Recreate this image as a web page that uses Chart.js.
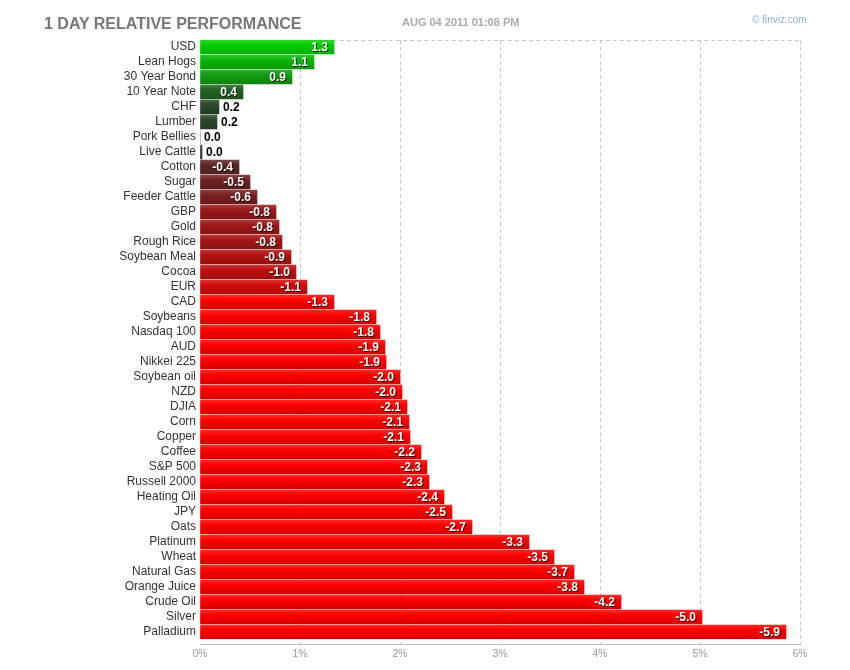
<!DOCTYPE html>
<html>
<head>
<meta charset="utf-8">
<script src="https://cdn.jsdelivr.net/npm/chart.js@4/dist/chart.umd.min.js"></script>
<style>
  body { margin: 0; background: #fff; }
  #wrap { position: relative; width: 850px; height: 670px; font-family: Arial, "Liberation Sans", Helvetica, sans-serif; }
  #wrap canvas { position: absolute; left: 0; top: 0; }
  .hdr { position: absolute; white-space: nowrap; }
  #title { left: 44px; top: 16px; font-size: 16px; line-height: 16px; font-weight: bold; color: #777; }
  #stamp { left: 402px; top: 17px; font-size: 11px; line-height: 11px; font-weight: bold; color: #aaa; }
  #credit { left: 752px; top: 15px; font-size: 10px; line-height: 10px; color: #8ab4de; }
</style>
</head>
<body>
<div id="wrap">
  <canvas id="chart-perf" width="850" height="670"></canvas>
  <div class="hdr" id="title">1 DAY RELATIVE PERFORMANCE</div>
  <div class="hdr" id="stamp">AUG 04 2011 01:08 PM</div>
  <div class="hdr" id="credit">© finviz.com</div>
</div>
<script>
/* 1 day relative performance — horizontal bars, length = |change| */

const FONT = 'Arial, "Liberation Sans", Helvetica, sans-serif';

const NAMES = [
  'USD', 'Lean Hogs', '30 Year Bond', '10 Year Note', 'CHF', 'Lumber',
  'Pork Bellies', 'Live Cattle', 'Cotton', 'Sugar', 'Feeder Cattle', 'GBP',
  'Gold', 'Rough Rice', 'Soybean Meal', 'Cocoa', 'EUR', 'CAD',
  'Soybeans', 'Nasdaq 100', 'AUD', 'Nikkei 225', 'Soybean oil', 'NZD',
  'DJIA', 'Corn', 'Copper', 'Coffee', 'S&P 500', 'Russell 2000',
  'Heating Oil', 'JPY', 'Oats', 'Platinum', 'Wheat', 'Natural Gas',
  'Orange Juice', 'Crude Oil', 'Silver', 'Palladium',
];

// % change
const CHANGES = [
  1.34, 1.14, 0.92, 0.43, 0.19, 0.17,
  0.00, 0.02, -0.39, -0.50, -0.57, -0.76,
  -0.79, -0.82, -0.91, -0.96, -1.07, -1.34,
  -1.76, -1.80, -1.85, -1.86, -2.00, -2.02,
  -2.07, -2.09, -2.10, -2.21, -2.27, -2.29,
  -2.44, -2.52, -2.72, -3.29, -3.54, -3.74,
  -3.84, -4.21, -5.02, -5.86,
];

const X_TICKS = [0, 1, 2, 3, 4, 5, 6];

function baseColor(v) {
  if (v >= 0) {
    const t = Math.pow(Math.min(v / 1.4, 1), 1.05);
    return [48 * (1 - t), 52 + (215 - 52) * t, 48 * (1 - t)];
  }
  const t = Math.pow(Math.min(-v / 1.3, 1), 1.25);
  return [48 + (255 - 48) * t, 48 * (1 - t), 48 * (1 - t)];
}

function rgb(c, k) {
  // k > 0 lightens toward white, k < 0 darkens
  const f = x => Math.round(k >= 0 ? x + (255 - x) * k : x * (1 + k));
  return `rgb(${f(c[0])},${f(c[1])},${f(c[2])})`;
}

function barFill(ctx) {
  const v = CHANGES[ctx.dataIndex];
  if (v === undefined) return '#333';
  const c = baseColor(v);
  const chart = ctx.chart, ys = chart.scales.y;
  if (!ys || !chart.chartArea) return rgb(c, 0);
  const cy = ys.getPixelForValue(ctx.dataIndex);
  const g = chart.ctx.createLinearGradient(0, cy - 7, 0, cy + 7);
  g.addColorStop(0, rgb(c, 0.16));
  g.addColorStop(0.35, rgb(c, 0));
  g.addColorStop(1, rgb(c, -0.16));
  return g;
}

// rows are 15px and end 4px above the x axis line
const rowFit = {
  id: 'rowFit',
  afterLayout(chart) {
    const s = chart.scales.y, a = chart.chartArea;
    s.top = a.top - 0.5;
    s.bottom = s.top + NAMES.length * 15;
    s.height = s.bottom - s.top;
    s.configure();
  },
};

const topLine = {
  id: 'topLine',
  beforeDatasetsDraw(chart) {
    const { ctx, chartArea: a } = chart;
    ctx.save();
    ctx.strokeStyle = '#c8c8c8';
    ctx.lineWidth = 1;
    ctx.setLineDash([4, 3]);
    ctx.beginPath();
    ctx.moveTo(a.left, a.top + 0.5);
    ctx.lineTo(a.right, a.top + 0.5);
    ctx.stroke();
    ctx.restore();
  },
};

const valueLabels = {
  id: 'valueLabels',
  afterDatasetsDraw(chart) {
    const c = chart.ctx;
    chart.getDatasetMeta(0).data.forEach((bar, i) => {
      const txt = CHANGES[i].toFixed(1);
      const w = bar.x - bar.base;
      c.save();
      c.font = 'bold 12px ' + FONT;
      c.textBaseline = 'middle';
      if (w > 25) {
        c.textAlign = 'right';
        c.fillStyle = '#fff';
        c.shadowColor = 'rgba(0,0,0,0.75)';
        c.shadowOffsetX = 1;
        c.shadowOffsetY = 1;
        c.shadowBlur = 0;
        c.fillText(txt, bar.x - 6, bar.y + 0.5);
      } else {
        c.textAlign = 'left';
        c.fillStyle = '#000';
        c.fillText(txt, bar.x + 4, bar.y + 0.5);
      }
      c.restore();
    });
  },
};

new Chart(document.getElementById('chart-perf'), {
  type: 'bar',
  data: {
    labels: NAMES,
    datasets: [{
      data: CHANGES.map(v => Math.abs(v)),
      backgroundColor: barFill,
      borderWidth: 0,
      barThickness: 14,
    }],
  },
  plugins: [rowFit, topLine, valueLabels],
  options: {
    indexAxis: 'y',
    responsive: false,
    animation: false,
    layout: { padding: { top: 40, right: 50, bottom: 0, left: 0 } },
    plugins: { legend: { display: false }, tooltip: { enabled: false }, title: { display: false } },
    scales: {
      x: {
        type: 'linear',
        min: X_TICKS[0],
        max: X_TICKS[X_TICKS.length - 1],
        afterBuildTicks: s => { s.ticks = X_TICKS.map(v => ({ value: v })); },
        ticks: { callback: v => v + '%', color: '#999', font: { size: 10.5, family: FONT }, padding: 4, maxRotation: 0 },
        grid: {
          color: c => (c.tick && c.tick.value === 0) ? 'rgba(0,0,0,0)' : '#c8c8c8',
          drawTicks: false,
        },
        border: { display: true, color: '#c0c0c0', dash: [4, 3] },
        afterFit: s => { s.height = 26; },
      },
      y: {
        type: 'category',
        grid: { display: false, drawTicks: false },
        border: { display: false },
        ticks: { color: '#333', font: { size: 12, family: FONT }, padding: 4, autoSkip: false },
        afterFit: s => { s.width = 200; },
      },
    },
  },
});
</script>
</body>
</html>
